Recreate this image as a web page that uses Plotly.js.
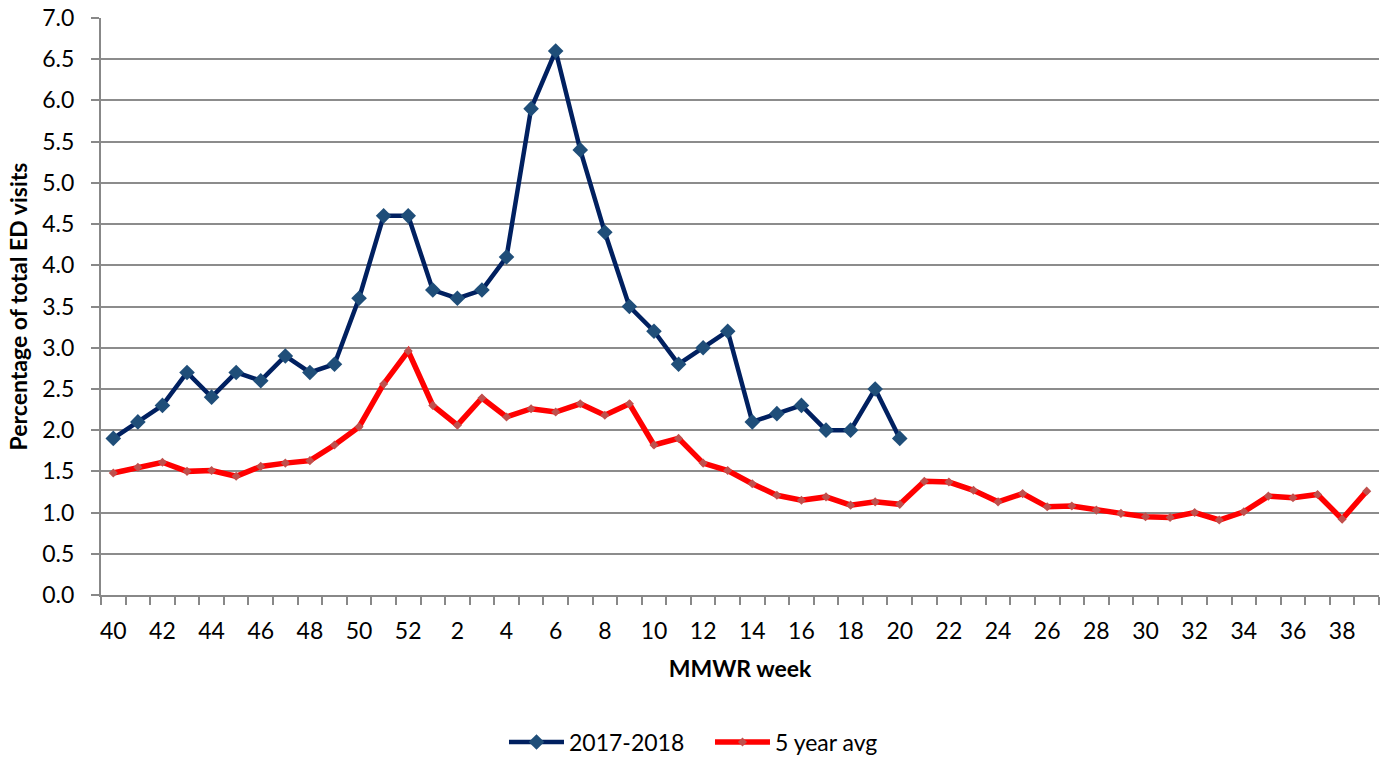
<!DOCTYPE html>
<html>
<head>
<meta charset="utf-8">
<script src="https://cdn.plot.ly/plotly-3.0.1.min.js"></script>
<style>html,body{margin:0;padding:0;background:#fff;}#chart{width:1384px;height:758px;}</style>
</head>
<body>
<div id="chart"></div>
<script>
const weeks = [40,41,42,43,44,45,46,47,48,49,50,51,52,1,2,3,4,5,6,7,8,9,10,11,12,13,14,15,16,17,18,19,20,21,22,23,24,25,26,27,28,29,30,31,32,33,34,35,36,37,38,39];
const season2017 = [1.9,2.1,2.3,2.7,2.4,2.7,2.6,2.9,2.7,2.8,3.6,4.6,4.6,3.7,3.6,3.7,4.1,5.9,6.6,5.4,4.4,3.5,3.2,2.8,3.0,3.2,2.1,2.2,2.3,2.0,2.0,2.5,1.9];
const fiveYearAvg = [1.48,1.55,1.61,1.50,1.51,1.44,1.56,1.60,1.63,1.82,2.04,2.56,2.96,2.30,2.06,2.39,2.16,2.26,2.22,2.32,2.18,2.32,1.82,1.90,1.60,1.51,1.35,1.21,1.15,1.19,1.09,1.13,1.10,1.38,1.37,1.27,1.13,1.23,1.07,1.08,1.03,0.99,0.95,0.94,1.00,0.91,1.01,1.20,1.18,1.22,0.92,1.26];
const seriesNames = ['2017-2018','5 year avg'];

const idx = weeks.map((w,i)=>i);
const tickIdx = idx.filter(i=>i%2===0);
const tickTxt = tickIdx.map(i=>String(weeks[i]));
const font = 'Lato, Open Sans, sans-serif';

const traces = [
  {x: idx.slice(0, season2017.length), y: season2017, name: seriesNames[0], type:'scatter', mode:'lines+markers',
   line:{color:'#002060', width:4.5}, marker:{symbol:'diamond', size:12, color:'#1F4E79'}},
  {x: idx, y: fiveYearAvg, name: seriesNames[1], type:'scatter', mode:'lines+markers',
   line:{color:'#FF0000', width:5.5}, marker:{symbol:'diamond', size:7, color:'#C0504D'}}
];

const layout = {
  width:1384, height:758,
  margin:{l:101, r:5, t:18, b:163, autoexpand:false},
  paper_bgcolor:'#fff', plot_bgcolor:'#fff',
  font:{family:font, size:23, color:'#000'},
  showlegend:true,
  legend:{orientation:'h', xref:'container', x:0.513, xanchor:'center', yref:'container', y:0.021, yanchor:'middle',
          font:{size:23}, itemwidth:55, entrywidth:136, entrywidthmode:'pixels'},
  xaxis:{
    range:[-0.5, weeks.length-0.5], tickmode:'array', tickvals:tickIdx, ticktext:tickTxt, tickangle:0,
    showgrid:false, zeroline:false, showline:true, linecolor:'#888', linewidth:2,
    ticks:'', tickfont:{size:23}, ticklabelstandoff:14,
    minor:{tick0:0.5, dtick:1, ticks:'outside', ticklen:8, tickcolor:'#888', tickwidth:2, showgrid:false},
    title:{text:'<b>MMWR week</b>', font:{size:23}, standoff:18}
  },
  yaxis:{
    range:[0,7], dtick:0.5, tickformat:'.1f', showgrid:true, gridcolor:'#8c8c8c', gridwidth:2,
    zeroline:false, showline:true, linecolor:'#888', linewidth:2,
    ticks:'outside', ticklen:8, tickcolor:'#888', tickwidth:2, tickfont:{size:23}, ticklabelstandoff:12,
    title:{text:'<b>Percentage of total ED visits</b>', font:{size:23}, standoff:8}
  }
};
Plotly.newPlot('chart', traces, layout, {displayModeBar:false, staticPlot:true});
</script>
</body>
</html>
